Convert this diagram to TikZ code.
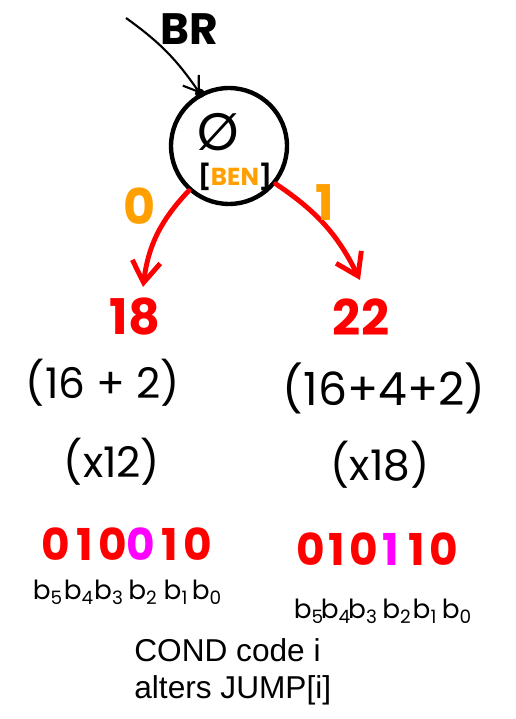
\documentclass[tikz,border=0pt]{standalone}
\usepackage{fontspec}
\setmainfont{Poppins}
\newfontfamily\notefont{Liberation Sans}
\usetikzlibrary{positioning,arrows.meta}
\definecolor{branchred}{HTML}{FF0000}
\definecolor{benorange}{HTML}{FF9F00}
\definecolor{bitpink}{HTML}{FF00FF}
\tikzset{
    state/.style={circle, draw, line width=2.5pt, minimum size=2.32cm, inner sep=0pt},
    inarrow/.style={-{Straight Barb[length=8pt,width=11pt]}, line width=1.2pt},
    branch/.style={-{Straight Barb[length=12pt,width=16pt]}, line width=2.8pt, color=branchred, line cap=round},
    marker/.style={inner sep=0pt, font=\fontsize{28}{32}\selectfont\bfseries},
    bit/.style={inner sep=0pt, font=\fontsize{25}{30}\selectfont\bfseries},
    hand/.style={inner sep=0pt, font=\fontsize{24}{28}\selectfont},
    bitname/.style={inner sep=0pt, font=\fontsize{15}{18}\selectfont},
    note/.style={inner sep=0pt, align=left, font=\notefont\fontsize{18}{21}\selectfont}
}

\begin{document}
\begin{tikzpicture}[x=0.02cm, y=-0.02cm]
\useasboundingbox (0,0) rectangle (515,719);
% branch node
\node[state] (st) at (229,146) {};
\fill (st.119) circle (2.8pt);
\node[inner sep=0pt, font=\fontsize{30}{34}\selectfont] (empty) at (218,132) {Ø};
\node[inner sep=0pt, font=\fontsize{14}{16}\selectfont\bfseries] (ben) at (235,177) {[\textcolor{benorange}{BEN}]};
\node[inner sep=0pt, font=\fontsize{25}{30}\selectfont\bfseries] (br) at (189,29) {BR};
\coordinate (brtail) at (126,18);
\draw[inarrow] (brtail) to[bend left=10] (st.119);
% two outcomes
\coordinate (tip0) at (143,287);
\coordinate (tip1) at (360,280);
\draw[branch] (st.228) to[bend right=18] (tip0);
\draw[branch] (st.321) to[bend left=15] (tip1);
\node[marker, text=benorange] (c0) at (140,206) {0};
\node[marker, text=benorange] (c1) at (325,203) {1};
\node[marker, text=branchred] (t0) at (135,317) {18};
\node[marker, text=branchred] (t1) at (361,317) {22};
\node[hand] (sum0) at (103,383) {(16 + 2)};
\node[hand, font=\fontsize{26}{30}\selectfont] (sum1) at (384,388) {(16+4+2)};
\node[hand] (mul0) at (112,462) {(x12)};
\node[hand] (mul1) at (380,465) {(x18)};
% bit strings
\foreach \d/\c [count=\i] in {0/branchred,1/branchred,0/branchred,0/bitpink,1/branchred,0/branchred}
    \node[bit, text=\c] (l\i) at ({42+(\i-0.5)*28.3}, 544) {\d};
\foreach \d/\c [count=\i] in {0/branchred,1/branchred,0/branchred,1/bitpink,1/branchred,0/branchred}
    \node[bit, text=\c] (r\i) at ({297+(\i-0.5)*26.7}, 549) {\d};
\foreach \x/\n in {48/5,79/4,109/3,143/2,176/1,207/0}
    \node[bitname] (lb\n) at (\x,592) {b\textsubscript{\n}};
\foreach \x/\n in {309/5,336/4,363/3,397/2,425/1,457/0}
    \node[bitname] (rb\n) at (\x,611) {b\textsubscript{\n}};
\node[note, anchor=north west] (cond) at (134,638) {COND code i\\alters JUMP[i]};
\end{tikzpicture}
\end{document}
